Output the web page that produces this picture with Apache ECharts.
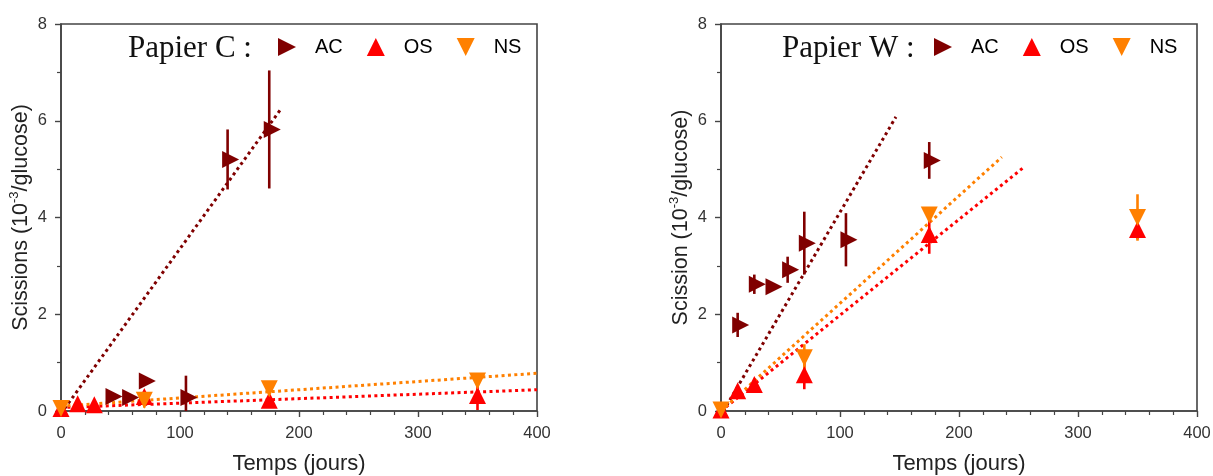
<!DOCTYPE html>
<html>
<head>
<meta charset="utf-8">
<script src="https://cdn.jsdelivr.net/npm/echarts@6/dist/echarts.min.js"></script>
<style>
html,body{margin:0;padding:0;background:#fff;}
#chart{width:1213px;height:476px;}
</style>
</head>
<body>
<div id="chart"></div>
<script>
// ---------- DATA ----------
// Papier C
const daysC_AC = [42, 56, 70, 105, 140, 175];
const valC_AC  = [0.30, 0.28, 0.62, 0.28, 5.20, 5.82];
const errC_AC  = [0.05, 0.05, 0.05, 0.45, 0.62, 1.22];
const daysC_OS = [0, 14, 28, 70, 175, 350];
const valC_OS  = [0.05, 0.15, 0.13, 0.30, 0.22, 0.32];
const errC_OS  = [0, 0.08, 0.08, 0, 0.05, 0.30];
const daysC_NS = [0, 70, 175, 350];
const valC_NS  = [0.05, 0.22, 0.46, 0.62];
const errC_NS  = [0, 0.15, 0.08, 0.10];
const fitC_AC = [[3, 0.05], [185, 6.25]];
const fitC_OS = [[0, 0.07], [400, 0.44]];
const fitC_NS = [[0, 0.10], [400, 0.78]];
// Papier W
const daysW_AC = [14, 28, 42, 56, 70, 105, 175];
const valW_AC  = [1.78, 2.62, 2.57, 2.92, 3.47, 3.54, 5.18];
const errW_AC  = [0.25, 0.20, 0.05, 0.27, 0.65, 0.55, 0.38];
const daysW_OS = [0, 14, 28, 70, 175, 350];
const valW_OS  = [0.02, 0.42, 0.55, 0.75, 3.65, 3.75];
const errW_OS  = [0, 0.10, 0.10, 0.30, 0.40, 0.20];
const daysW_NS = [0, 70, 175, 350];
const valW_NS  = [0.02, 1.10, 4.05, 4.00];
const errW_NS  = [0, 0.28, 0.10, 0.48];
const fitW_AC = [[2, 0], [147, 6.08]];
const fitW_OS = [[0, 0], [255, 5.05]];
const fitW_NS = [[0, 0], [236, 5.25]];

const xTicks = [0, 100, 200, 300, 400];
const yTicks = [0, 2, 4, 6, 8];
const seriesNames = ['AC', 'OS', 'NS'];
const panelTitles = ['Papier C :', 'Papier W :'];
const yTitles = ['Scissions (10{sup|-3}/glucose)', 'Scission (10{sup|-3}/glucose)'];
const xTitle = 'Temps (jours)';

// ---------- STYLE ----------
const colors = { AC: '#800000', OS: '#ff0000', NS: '#ff8000' };
const symbolRot = { AC: -90, OS: 0, NS: 180 };
const symbolOff = { AC: [3, 0], OS: [0, 0], NS: [0, 0] };
const legendIcons = { AC: 'path://M0,0L10,5L0,10Z', OS: 'path://M5,0L10,10L0,10Z', NS: 'path://M0,0L10,0L5,10Z' };
const SANS = '"Liberation Sans", Arial, sans-serif';
const SERIF = '"Liberation Serif", "Times New Roman", serif';
const axisCol = '#444';

const zip = (xs, ys, es) => xs.map((x, i) => es ? [x, ys[i], es[i]] : [x, ys[i]]);

function errRender(color) {
  return function (params, api) {
    const x = api.value(0), y = api.value(1), e = api.value(2);
    if (!e) return null;
    const p1 = api.coord([x, y + e]);
    const p2 = api.coord([x, Math.max(y - e, 0)]);
    return {
      type: 'line',
      shape: { x1: p1[0], y1: p1[1], x2: p2[0], y2: p2[1] },
      style: { stroke: color, lineWidth: 2.6 }
    };
  };
}

function xAxisCfg(idx) {
  return {
    type: 'value', gridIndex: idx, min: xTicks[0], max: xTicks[xTicks.length - 1], interval: 100,
    name: xTitle, nameLocation: 'middle', nameGap: 42,
    nameTextStyle: { fontFamily: SANS, fontSize: 22, color: '#222' },
    axisLine: { show: true, onZero: false, lineStyle: { color: axisCol, width: 1.6 } },
    axisTick: { show: true, inside: false, length: 6, lineStyle: { color: axisCol, width: 1.4 } },
    minorTick: { show: true, splitNumber: 5, length: 4, lineStyle: { color: axisCol, width: 1.2 } },
    axisLabel: { fontFamily: SANS, fontSize: 16.5, color: '#333', margin: 14 },
    splitLine: { show: false }
  };
}
function yAxisCfg(idx) {
  return {
    type: 'value', gridIndex: idx, min: yTicks[0], max: yTicks[yTicks.length - 1], interval: 2,
    name: yTitles[idx], nameLocation: 'middle', nameGap: 26, nameRotate: 90,
    nameTextStyle: {
      fontFamily: SANS, fontSize: 21.5, color: '#222', lineHeight: 26,
      rich: { sup: { fontFamily: SANS, fontSize: 13, color: '#222', verticalAlign: 'top', lineHeight: 26 } }
    },
    axisLine: { show: true, onZero: false, lineStyle: { color: axisCol, width: 1.6 } },
    axisTick: { show: true, inside: false, length: 6, lineStyle: { color: axisCol, width: 1.4 } },
    minorTick: { show: true, splitNumber: 2, length: 4, lineStyle: { color: axisCol, width: 1.2 } },
    axisLabel: { fontFamily: SANS, fontSize: 16.5, color: '#333', margin: 14 },
    splitLine: { show: false }
  };
}

const panels = [
  { AC: [daysC_AC, valC_AC, errC_AC], OS: [daysC_OS, valC_OS, errC_OS], NS: [daysC_NS, valC_NS, errC_NS],
    fit: { AC: fitC_AC, OS: fitC_OS, NS: fitC_NS } },
  { AC: [daysW_AC, valW_AC, errW_AC], OS: [daysW_OS, valW_OS, errW_OS], NS: [daysW_NS, valW_NS, errW_NS],
    fit: { AC: fitW_AC, OS: fitW_OS, NS: fitW_NS } }
];

const series = [];
panels.forEach((p, gi) => {
  seriesNames.forEach(n => {
    series.push({
      type: 'line', name: n + '_fit', xAxisIndex: gi, yAxisIndex: gi, data: p.fit[n],
      symbol: 'none', silent: true, z: 2,
      lineStyle: { color: colors[n], width: 3, type: [3, 3.4], cap: 'butt' }
    });
  });
  seriesNames.forEach(n => {
    const [xs, ys, es] = p[n];
    series.push({
      type: 'custom', name: n + '_err', xAxisIndex: gi, yAxisIndex: gi,
      data: zip(xs, ys, es), renderItem: errRender(colors[n]), z: 3, silent: true
    });
    series.push({
      type: 'scatter', name: n, xAxisIndex: gi, yAxisIndex: gi, data: zip(xs, ys),
      symbol: 'triangle', symbolSize: 17, symbolRotate: symbolRot[n], symbolOffset: symbolOff[n],
      itemStyle: { color: colors[n], opacity: 1 }, z: 4
    });
  });
});

const legendCfg = (left) => ({
  left: left, top: 32, orient: 'horizontal',
  data: seriesNames.map(n => ({ name: n, icon: legendIcons[n], itemStyle: { color: colors[n] } })),
  itemWidth: 18, itemHeight: 18, itemGap: 24, selectedMode: false,
  textStyle: { fontFamily: SANS, fontSize: 20, color: '#000', padding: [0, 0, 0, 14] }
});

const gridBase = { top: 24, width: 476, height: 387, show: true, borderColor: axisCol, borderWidth: 1.6,
  backgroundColor: 'transparent', containLabel: false, outerBoundsMode: 'none' };

const option = {
  animation: false,
  backgroundColor: '#fff',
  grid: [
    Object.assign({ left: 61 }, gridBase),
    Object.assign({ left: 721 }, gridBase)
  ],
  xAxis: [xAxisCfg(0), xAxisCfg(1)],
  yAxis: [yAxisCfg(0), yAxisCfg(1)],
  legend: [legendCfg(273), legendCfg(929)],
  graphic: [
    { type: 'text', left: 128, top: 33, style: { text: panelTitles[0], font: '31px ' + SERIF, fill: '#111' } },
    { type: 'text', left: 782, top: 33, style: { text: panelTitles[1], font: '31px ' + SERIF, fill: '#111' } }
  ],
  series: series
};

const chart = echarts.init(document.getElementById('chart'), null, { renderer: 'canvas' });
chart.setOption(option);
</script>
</body>
</html>
